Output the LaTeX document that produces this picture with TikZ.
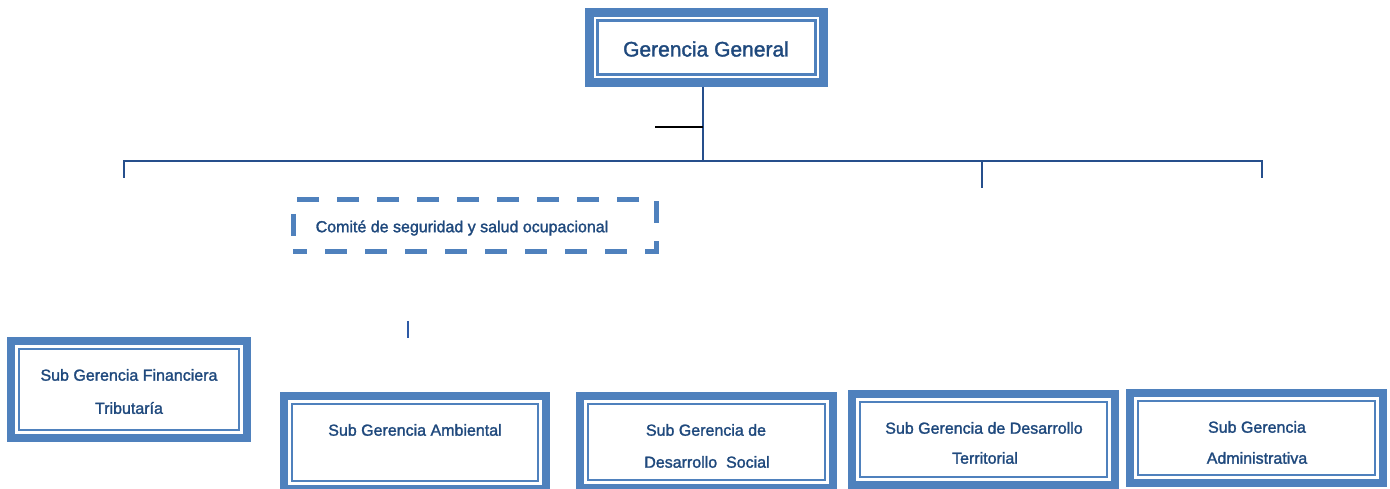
\documentclass[tikz,border=0pt]{standalone}
\usepackage{fontspec}
\setmainfont{Liberation Sans}[FakeBold=1.6]
\definecolor{boxblue}{HTML}{4F81BD}
\definecolor{txtblue}{HTML}{1F497D}
\definecolor{lineblue}{HTML}{264F8C}
\definecolor{tickblue}{HTML}{2E5AA6}
\tikzset{
  orgbox/.style={draw=boxblue, line width=8pt, fill=white, inner sep=0pt,
    path picture={\draw[boxblue, line width=2.5pt]
      ([shift={(7.8pt,7.8pt)}]path picture bounding box.south west) rectangle
      ([shift={(-7.8pt,-7.8pt)}]path picture bounding box.north east);}},
  dashbox/.style={draw=boxblue, line width=5pt, fill=white, inner sep=0pt,
    dash pattern=on 22pt off 18pt, dash phase=8pt},
  lbl/.style={text=txtblue, inner sep=0pt, font=\fontsize{16}{19}\selectfont},
  biglbl/.style={text=txtblue, inner sep=0pt, font=\fontsize{21}{25}\selectfont},
  conn/.style={draw=lineblue, line width=2.6pt, line join=miter},
}
\begin{document}
\begin{tikzpicture}[x=1pt,y=1pt]
\useasboundingbox (0,0) rectangle (1390,489);
\clip (0,0) rectangle (1390,489);
% connectors
\coordinate (jt) at (703,328);
\coordinate (bl) at (124,328);
\coordinate (br) at (1262,328);
\coordinate (bm) at (982,328);
\coordinate (dl) at (124,311);
\coordinate (dm) at (982,301);
\coordinate (dr) at (1262,311);
\coordinate (tk) at (655,362);
\coordinate (sv1) at (408,168);
\coordinate (sv2) at (408,151);
\node[orgbox, line width=9pt, minimum width=234pt, minimum height=70pt] (GG) at (706.5,441.5) {};
\draw[conn] (GG.south -| jt) -- (jt);
\draw[conn] (dl) -- (bl) -- (br) -- (dr);
\draw[conn] (bm) -- (dm);
\draw[black, line width=2pt] (tk) -- (tk -| jt);
\draw[tickblue, line width=2.8pt] (sv1) -- (sv2);
% boxes
\node[biglbl] (tGG) at (706,440) {Gerencia General};
\node[dashbox, minimum width=363pt, minimum height=52pt] (CSO) at (474.5,263) {};
\node[lbl] (tCSO) at (462,261) {Comité de seguridad y salud ocupacional};
\node[orgbox, minimum width=236pt, minimum height=97pt] (FIN) at (129,99.5) {};
\node[lbl] (tFIN1) at (129,114) {Sub Gerencia Financiera};
\node[lbl] (tFIN2) at (129,81) {Tributaría};
\node[orgbox, minimum width=262pt, minimum height=93pt] (AMB) at (415,46.5) {};
\node[lbl] (tAMB) at (415,59) {Sub Gerencia Ambiental};
\node[orgbox, minimum width=253pt, minimum height=92pt] (SOC) at (706.5,47) {};
\node[lbl] (tSOC1) at (706,59) {Sub Gerencia de};
\node[lbl] (tSOC2) at (707,27) {Desarrollo\ \ Social};
\node[orgbox, minimum width=263pt, minimum height=91pt] (TER) at (983.5,49.5) {};
\node[lbl] (tTER1) at (984,61) {Sub Gerencia de Desarrollo};
\node[lbl] (tTER2) at (985,31) {Territorial};
\node[orgbox, minimum width=253pt, minimum height=90pt] (ADM) at (1256.5,51) {};
\node[lbl] (tADM1) at (1257,62) {Sub Gerencia};
\node[lbl] (tADM2) at (1257,31) {Administrativa};
\end{tikzpicture}
\end{document}
